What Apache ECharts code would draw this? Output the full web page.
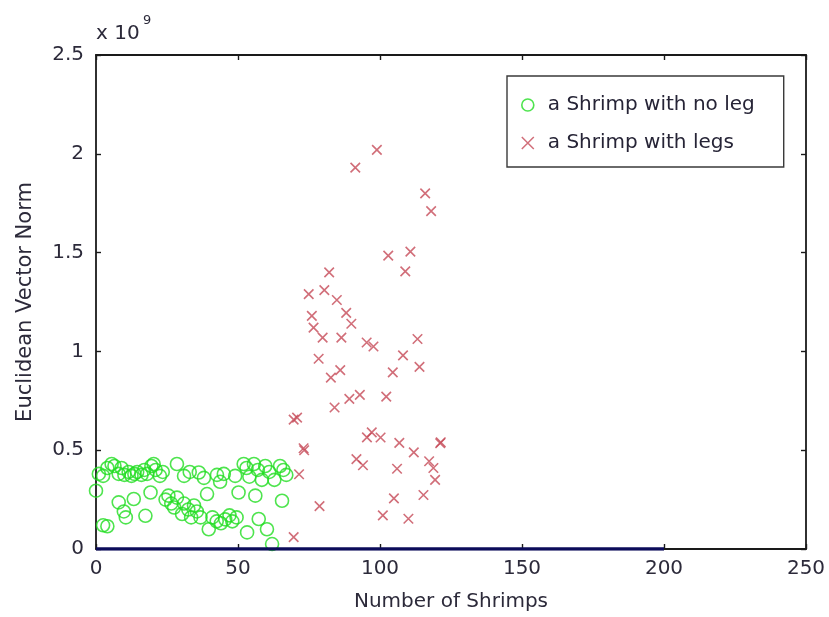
<!DOCTYPE html>
<html><head><meta charset="utf-8">
<script src="https://cdn.jsdelivr.net/npm/echarts@6/dist/echarts.min.js"></script>
<style>html,body{margin:0;padding:0;background:#fff}#c{width:829px;height:617px}</style>
</head><body><div id="c"></div>
<script>
// Tick values
const xTicks = [0, 50, 100, 150, 200, 250];
const yTicks = [0, 0.5, 1, 1.5, 2, 2.5]; // units of 1e9

// "a Shrimp with no leg" (green circles): x, y (x 10^9)
const noLegX = [1, 2.5, 4, 5.5, 6.5, 8, 9, 10, 11.5, 12.5, 13.5, 14.5, 16, 17, 18, 19.5, 20.3, 21, 22.5, 23.5, 28.5, 31, 33, 36.2, 38, 42.6, 43.7, 45, 49, 52, 53, 54, 55.6, 57, 58.4, 59.6, 61, 62.8, 64.8, 66, 67,
  0, 2.5, 4, 8, 9.8, 10.5, 13.3, 17.4, 19.2, 24.5, 25.5, 26.5, 27.5, 28.5, 30.3, 31, 32.5, 33.5, 34.5, 35.5, 36.8, 39.1, 39.7, 41, 42.5, 44, 45.5, 47, 48, 49.5, 50.2, 53.2, 56.1, 57.3, 60.2, 62, 65.5];
const noLegY = [0.38, 0.37, 0.41, 0.43, 0.42, 0.38, 0.41, 0.375, 0.39, 0.37, 0.38, 0.39, 0.375, 0.40, 0.38, 0.42, 0.43, 0.40, 0.37, 0.39, 0.43, 0.37, 0.39, 0.387, 0.36, 0.375, 0.34, 0.38, 0.37, 0.43, 0.41, 0.366, 0.43, 0.40, 0.35, 0.42, 0.39, 0.35, 0.42, 0.40, 0.375,
  0.295, 0.12, 0.115, 0.236, 0.19, 0.16, 0.253, 0.168, 0.286, 0.25, 0.27, 0.23, 0.21, 0.26, 0.177, 0.23, 0.20, 0.16, 0.22, 0.19, 0.16, 0.278, 0.10, 0.16, 0.14, 0.13, 0.15, 0.17, 0.14, 0.16, 0.286, 0.084, 0.27, 0.152, 0.10, 0.025, 0.244];

// "a Shrimp with legs" (red crosses)
const legsX = [69.6, 69.6, 70.8, 71.5, 73.1, 73.3, 74.9, 76.0, 76.6, 78.4, 78.7, 79.8, 80.4, 82.1, 82.7, 84.0, 84.8, 86.0, 86.4, 88.1, 89.2, 89.9, 91.3, 91.7, 92.9, 94.0, 95.3, 95.4, 97.1, 97.7, 98.9, 100.2, 101.0, 102.2, 102.9, 104.5, 104.9, 106.0, 106.8, 108.1, 108.9, 110.0, 110.7, 111.9, 113.2, 113.9, 115.3, 115.9, 117.3, 118.0, 118.8, 119.4, 121.2, 121.4];
const legsY = [0.06, 0.655, 0.665, 0.378, 0.51, 0.50, 1.29, 1.18, 1.12, 0.963, 0.217, 1.07, 1.31, 1.40, 0.867, 0.716, 1.26, 0.905, 1.07, 1.195, 0.76, 1.14, 1.93, 0.455, 0.78, 0.424, 1.045, 0.565, 0.59, 1.025, 2.02, 0.564, 0.17, 0.771, 1.485, 0.894, 0.256, 0.406, 0.537, 0.98, 1.405, 0.153, 1.505, 0.489, 1.063, 0.922, 0.273, 1.80, 0.444, 1.71, 0.41, 0.35, 0.535, 0.54];

// zero reference line
const zeroX = [0, 200];
const zeroY = [0, 0];

const FONT = 'DejaVu Sans';
const TXT = '#2c2a3a';
const GREEN = '#22dd22';
const RED = '#c64a58';
const CROSS = 'path://M0,0L10,10M10,0L0,10';

const zip = (a, b) => a.map((v, i) => [v, b[i]]);

const chart = echarts.init(document.getElementById('c'), null, {renderer: 'canvas'});
const axisLineStyle = {color: '#1a1a1a', width: 1.8};
const tickStyle = {color: '#1a1a1a', width: 1.4};
const xBase = {type: 'value', min: xTicks[0], max: xTicks[xTicks.length - 1], interval: xTicks[1] - xTicks[0], splitLine: {show: false}};
const yBase = {type: 'value', min: yTicks[0], max: yTicks[yTicks.length - 1], interval: yTicks[1] - yTicks[0], splitLine: {show: false}};

chart.setOption({
  backgroundColor: '#fff',
  animation: false,
  grid: {left: 96, right: 23, top: 55, bottom: 67},
  xAxis: [
    Object.assign({}, xBase, {
      position: 'bottom',
      name: 'Number of Shrimps', nameLocation: 'middle', nameGap: 43,
      nameTextStyle: {fontFamily: FONT, fontSize: 20, color: TXT},
      axisLine: {onZero: false, lineStyle: axisLineStyle},
      axisTick: {inside: true, length: 5, lineStyle: tickStyle},
      axisLabel: {fontFamily: FONT, fontSize: 20, color: TXT, margin: 10}
    }),
    Object.assign({}, xBase, {
      position: 'top',
      axisLine: {onZero: false, lineStyle: axisLineStyle},
      axisTick: {inside: true, length: 5, lineStyle: tickStyle},
      axisLabel: {show: false}
    })
  ],
  yAxis: [
    Object.assign({}, yBase, {
      position: 'left',
      name: 'Euclidean Vector Norm', nameLocation: 'middle', nameGap: 60,
      nameTextStyle: {fontFamily: FONT, fontSize: 21, color: TXT},
      axisLine: {show: true, onZero: false, lineStyle: axisLineStyle},
      axisTick: {show: true, inside: true, length: 5, lineStyle: tickStyle},
      axisLabel: {fontFamily: FONT, fontSize: 20, color: TXT, margin: 12}
    }),
    Object.assign({}, yBase, {
      position: 'right',
      axisLine: {show: true, onZero: false, lineStyle: axisLineStyle},
      axisTick: {show: true, inside: true, length: 5, lineStyle: tickStyle},
      axisLabel: {show: false}
    })
  ],
  legend: {
    left: 507, top: 76, orient: 'vertical',
    padding: [19, 29, 14, 14],
    itemWidth: 30, itemHeight: 12, itemGap: 18,
    borderColor: '#3a3a3a', borderWidth: 1.4, backgroundColor: '#fff',
    textStyle: {fontFamily: FONT, fontSize: 20, color: '#262436'},
    data: [
      {name: 'a Shrimp with no leg', icon: 'circle', itemStyle: {color: '#fff', borderColor: GREEN, borderWidth: 1.6}},
      {name: 'a Shrimp with legs', icon: CROSS, itemStyle: {color: 'rgba(0,0,0,0)', borderColor: RED, borderWidth: 1.5}}
    ]
  },
  graphic: [
    {type: 'text', left: 96, top: 24, style: {text: 'x 10', font: '20px "DejaVu Sans"', fill: TXT}},
    {type: 'text', left: 143, top: 14, style: {text: '9', font: '13px "DejaVu Sans"', fill: TXT}}
  ],
  series: [
    {
      type: 'line', name: 'zero', data: zip(zeroX, zeroY), symbol: 'none', silent: true,
      lineStyle: {color: '#0c0c5a', width: 3.4}, z: 5
    },
    {
      type: 'scatter', name: 'a Shrimp with no leg', data: zip(noLegX, noLegY),
      symbol: 'circle', symbolSize: 13,
      itemStyle: {color: 'rgba(0,0,0,0)', borderColor: GREEN, borderWidth: 1.6}, z: 3
    },
    {
      type: 'scatter', name: 'a Shrimp with legs', data: zip(legsX, legsY),
      symbol: CROSS, symbolSize: 9.5,
      itemStyle: {color: 'rgba(0,0,0,0)', borderColor: RED, borderWidth: 1.6}, z: 4
    }
  ]
});
</script>
</body></html>
